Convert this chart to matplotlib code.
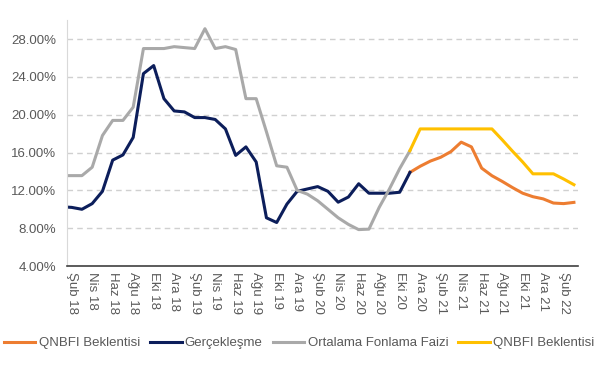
import matplotlib.pyplot as plt
import numpy as np

plt.rcParams['font.family'] = ['Liberation Sans', 'DejaVu Sans']

# aylar: Oca 18 .. Mar 22
ay = ["Oca", "Şub", "Mar", "Nis", "May", "Haz", "Tem", "Ağu", "Eyl", "Eki", "Kas", "Ara"]
months = [f"{ay[m]} {y}" for y in range(18, 23) for m in range(12)][:51]

gerceklesme = [10.27, 10.2, 10.0, 10.6, 11.9, 15.2, 15.75, 17.6, 24.35, 25.2,
               21.7, 20.4, 20.3, 19.7, 19.7, 19.5, 18.5, 15.7, 16.6, 15.0,
               9.1, 8.6, 10.55, 11.9, 12.15, 12.4, 11.9, 10.75, 11.3, 12.7,
               11.7, 11.7, 11.7, 11.8, 13.9]
fonlama = [13.56, 13.56, 13.56, 14.45, 17.8, 19.4, 19.4, 20.8, 27.0, 27.0,
           27.0, 27.2, 27.1, 27.0, 29.1, 27.0, 27.2, 26.9, 21.7, 21.7,
           18.2, 14.6, 14.45, 12.0, 11.6, 10.9, 10.0, 9.1, 8.4, 7.85,
           7.9, 10.2, 12.15, 14.3, 16.2]
# QNBFI beklentileri Kas 20'den itibaren
qnbfi_1 = [13.9, 14.55, 15.1, 15.5, 16.1, 17.1, 16.6, 14.35, 13.55, 12.95,
           12.3, 11.7, 11.33, 11.1, 10.66, 10.6, 10.73]
qnbfi_2 = [16.2, 18.5, 18.5, 18.5, 18.5, 18.5, 18.5, 18.5, 18.5, 17.35,
           16.15, 15.0, 13.75, 13.75, 13.75, 13.2, 12.6]

n = len(months)
x = np.arange(n)


def pad(vals, start):
    out = np.full(n, np.nan)
    out[start:start + len(vals)] = vals
    return out


fig = plt.figure(figsize=(5.98, 3.65), dpi=100)
ax = fig.add_axes([0.112, 0.2712, 0.8546, 0.6735])

ax.plot(x, pad(qnbfi_1, 34), color="#ED7D31", lw=2.2, label="QNBFI Beklentisi")
ax.plot(x, pad(gerceklesme, 0), color="#0C1E5B", lw=2.2, label="Gerçekleşme")
ax.plot(x, pad(fonlama, 0), color="#A9A9A9", lw=2.2, label="Ortalama Fonlama Faizi")
ax.plot(x, pad(qnbfi_2, 34), color="#FFC000", lw=2.2, label="QNBFI Beklentisi")

ax.set_xlim(0.54, 50.4)
ax.set_ylim(4, 30)
ax.set_yticks(np.arange(4, 29, 4))
ax.set_yticklabels([f"{v:.2f}%" for v in np.arange(4, 29, 4)])
ax.set_xticks(x[1::2])
ax.set_xticklabels(months[1::2], rotation=-90)

ax.grid(axis="y", color="#D0D0D0", linestyle=(0, (4, 3)), lw=1)
ax.set_axisbelow(True)
for s in ["top", "right"]:
    ax.spines[s].set_visible(False)
ax.spines["left"].set_color("#D9D9D9")
ax.spines["bottom"].set_color("#404040")
ax.spines["bottom"].set_linewidth(1.2)
ax.tick_params(length=0, labelcolor="#595959", labelsize=9.5)
ax.tick_params(axis="x", pad=4)
ax.tick_params(axis="y", pad=8)

fig.legend(loc="center", bbox_to_anchor=(0.5, 0.06), ncol=4, frameon=False,
           fontsize=9.5, handlelength=2.4, handletextpad=0.25, columnspacing=0.75,
           labelcolor="#595959")

fig.savefig("out.png", dpi=100)
